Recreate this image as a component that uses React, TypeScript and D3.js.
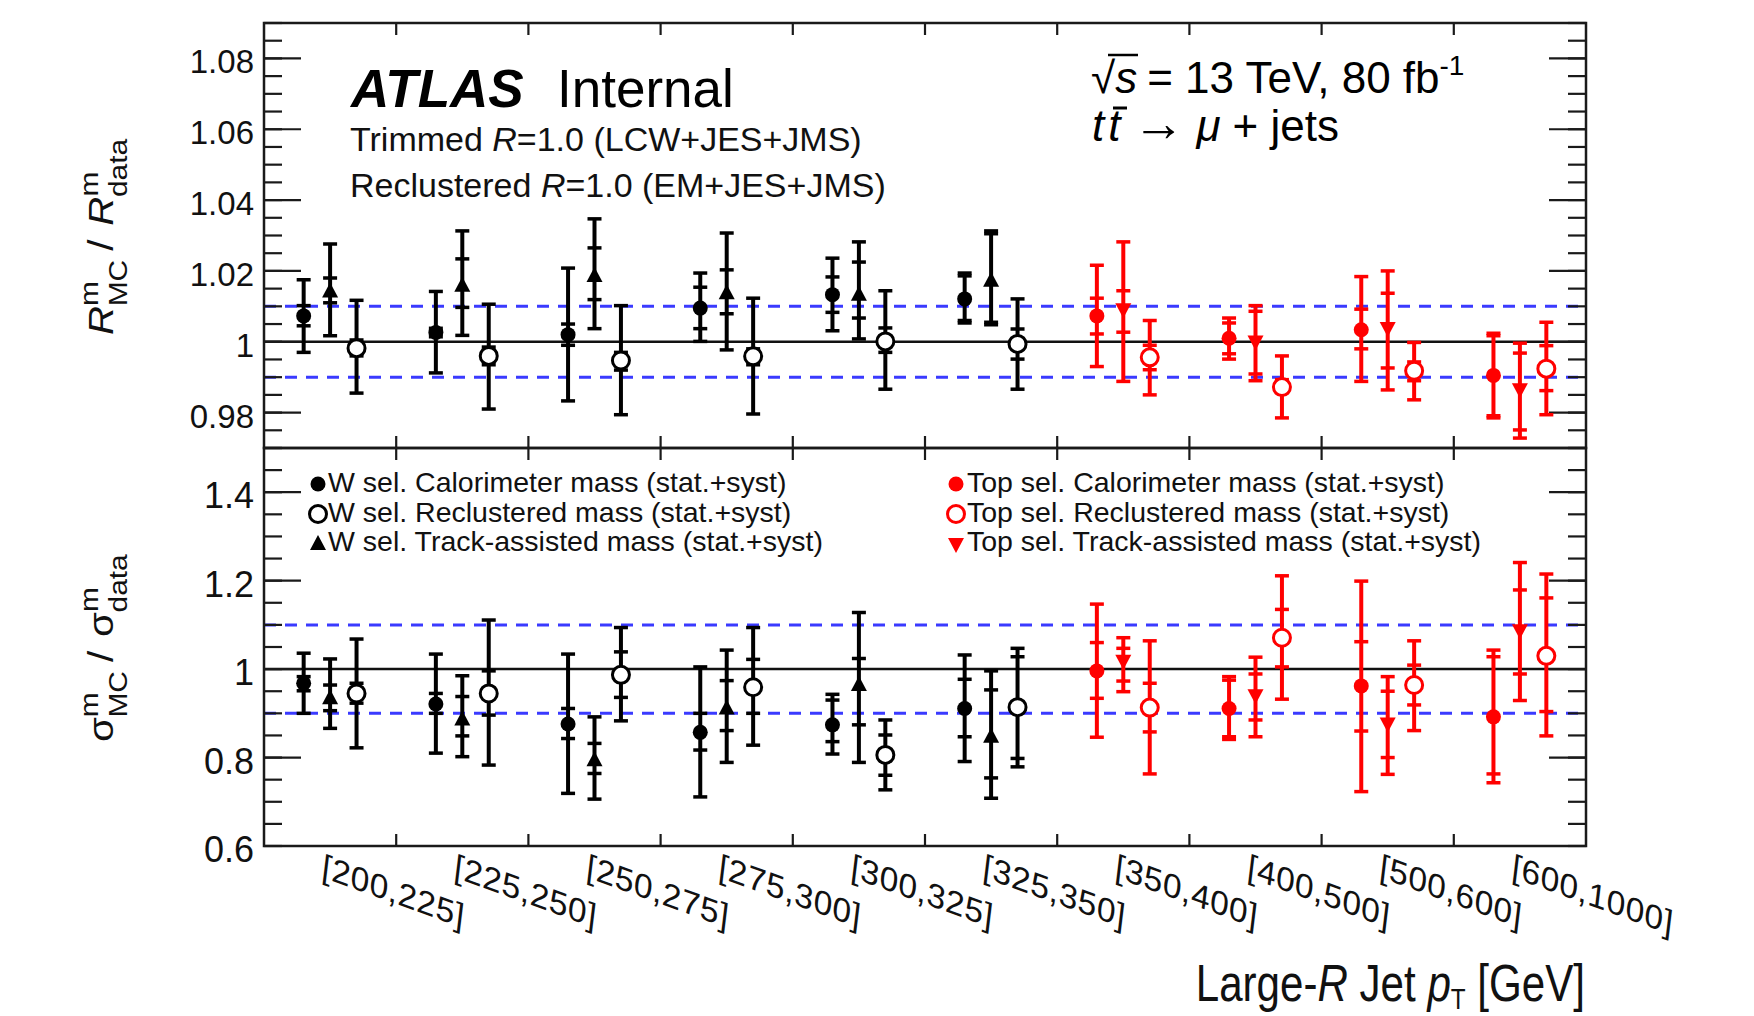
import React from "react";
import * as d3 from "d3";

// ---------- data ----------
const categories = [
  "[200,225]", "[225,250]", "[250,275]", "[275,300]", "[300,325]",
  "[325,350]", "[350,400]", "[400,500]", "[500,600]", "[600,1000]",
];
const nWBins = 6; // first six bins: W selection (black), remaining: top selection (red)

// each entry: [value, totalLow, totalHigh, statLow, statHigh]
type Pt = [number, number, number, number, number];

const rCalo: Pt[] = [
  [1.0073, 0.997, 1.0175, 1.0045, 1.0102],
  [1.0026, 0.9912, 1.0142, 1.0014, 1.0038],
  [1.002, 0.9833, 1.0208, 0.999, 1.005],
  [1.0095, 1.0001, 1.0194, 1.0037, 1.0154],
  [1.0133, 1.0031, 1.0236, 1.0083, 1.0183],
  [1.0121, 1.0053, 1.0194, 1.006, 1.0186],
  [1.0073, 0.993, 1.0216, 1.0022, 1.0123],
  [1.001, 0.9951, 1.0067, 0.9966, 1.0053],
  [1.0034, 0.9888, 1.0184, 0.998, 1.0092],
  [0.9905, 0.9785, 1.0024, 0.9791, 1.0017],
];
const rTrack: Pt[] = [
  [1.0142, 1.0017, 1.0276, 1.011, 1.018],
  [1.0158, 1.0018, 1.0313, 1.0097, 1.0234],
  [1.0186, 1.0037, 1.0347, 1.0119, 1.0265],
  [1.0137, 0.9977, 1.0307, 1.0079, 1.0203],
  [1.0133, 1.0008, 1.0282, 1.0067, 1.0225],
  [1.0172, 1.0048, 1.0313, 1.0055, 1.0305],
  [1.0092, 0.9888, 1.0282, 1.0027, 1.0144],
  [1.0001, 0.989, 1.0102, 0.9909, 1.0086],
  [1.0039, 0.9864, 1.02, 0.9926, 1.0137],
  [0.9866, 0.9728, 0.9996, 0.9751, 0.9968],
];
const rRecl: Pt[] = [
  [0.9982, 0.9855, 1.0117, 0.996, 1.0005],
  [0.996, 0.981, 1.0106, 0.9935, 0.9985],
  [0.9947, 0.9794, 1.0102, 0.992, 0.997],
  [0.9959, 0.9796, 1.0123, 0.9935, 0.998],
  [1.0001, 0.9866, 1.0144, 0.997, 1.0039],
  [0.9994, 0.9866, 1.0121, 0.9951, 1.0036],
  [0.9956, 0.985, 1.006, 0.9921, 0.999],
  [0.9872, 0.9785, 0.996, 0.9857, 0.9893],
  [0.9918, 0.9836, 0.9998, 0.989, 0.9943],
  [0.9924, 0.9794, 1.0055, 0.9862, 0.9989],
];

const sCalo: Pt[] = [
  [0.968, 0.9, 1.036, 0.951, 0.983],
  [0.921, 0.81, 1.034, 0.9, 0.945],
  [0.876, 0.719, 1.034, 0.843, 0.911],
  [0.857, 0.711, 1.005, 0.817, 0.9],
  [0.874, 0.808, 0.943, 0.836, 0.93],
  [0.911, 0.791, 1.032, 0.847, 0.977],
  [0.996, 0.846, 1.147, 0.934, 1.06],
  [0.911, 0.841, 0.983, 0.847, 0.975],
  [0.962, 0.723, 1.199, 0.86, 1.062],
  [0.892, 0.743, 1.043, 0.763, 1.028],
];
const sTrack: Pt[] = [
  [0.934, 0.866, 1.023, 0.906, 0.964],
  [0.886, 0.802, 0.985, 0.849, 0.938],
  [0.794, 0.706, 0.892, 0.764, 0.832],
  [0.911, 0.789, 1.043, 0.861, 0.974],
  [0.964, 0.789, 1.128, 0.874, 1.024],
  [0.847, 0.708, 0.996, 0.754, 0.953],
  [1.019, 0.949, 1.071, 0.973, 1.047],
  [0.941, 0.847, 1.027, 0.885, 0.989],
  [0.877, 0.762, 0.983, 0.8, 0.95],
  [1.088, 0.929, 1.241, 0.989, 1.179],
];
const sRecl: Pt[] = [
  [0.945, 0.822, 1.068, 0.923, 0.968],
  [0.945, 0.783, 1.111, 0.896, 0.996],
  [0.987, 0.883, 1.094, 0.936, 1.039],
  [0.959, 0.828, 1.094, 0.9, 1.022],
  [0.806, 0.727, 0.885, 0.76, 0.851],
  [0.914, 0.779, 1.047, 0.798, 1.028],
  [0.913, 0.763, 1.064, 0.858, 0.968],
  [1.071, 0.932, 1.211, 1.005, 1.135],
  [0.964, 0.861, 1.064, 0.919, 1.009],
  [1.03, 0.849, 1.215, 0.904, 1.161],
];

const rTickLabels = ["0.98", "1", "1.02", "1.04", "1.06", "1.08"];
const sTickLabels = ["0.6", "0.8", "1", "1.2", "1.4"];
const rBand = [0.99, 1.01];
const sBand = [0.9, 1.1];

const legendW = [
  "W sel. Calorimeter mass (stat.+syst)",
  "W sel. Reclustered mass (stat.+syst)",
  "W sel. Track-assisted mass (stat.+syst)",
];
const legendTop = [
  "Top sel. Calorimeter mass (stat.+syst)",
  "Top sel. Reclustered mass (stat.+syst)",
  "Top sel. Track-assisted mass (stat.+syst)",
];

// ---------- layout ----------
const W = 1754, H = 1016;
const L = 264, R = 1586, T = 23, MID = 448, B = 846;
const FONT = "'Liberation Sans', Arial, Helvetica, sans-serif";
const FRAME = "#1a1a1a";
const BLUE = "#3a3aff";
const RED = "#ff0000";

type Shape = "filled" | "open" | "tri";

function Marker({ x, y, shape, color, down }: { x: number; y: number; shape: Shape; color: string; down?: boolean }) {
  if (shape === "filled") return <circle cx={x} cy={y} r={7.5} fill={color} />;
  if (shape === "open")
    return <circle cx={x} cy={y} r={8.5} fill="#fff" stroke={color} strokeWidth={3} />;
  const d = down ? "M0,9 L8,-6 L-8,-6 Z" : "M0,-9 L8,6 L-8,6 Z";
  return <path d={d} transform={`translate(${x},${y})`} fill={color} />;
}

function ErrPoint({ x, p, y, shape, color, down }: { x: number; p: Pt; y: d3.ScaleLinear<number, number>; shape: Shape; color: string; down?: boolean }) {
  const [v, lo, hi, slo, shi] = p;
  const cw = 7;
  return (
    <g>
      <line x1={x} x2={x} y1={y(lo)} y2={y(hi)} stroke={color} strokeWidth={4} />
      {[lo, hi, slo, shi].map((e, i) => (
        <line key={i} x1={x - cw} x2={x + cw} y1={y(e)} y2={y(e)} stroke={color} strokeWidth={3.5} />
      ))}
      <Marker x={x} y={y(v)} shape={shape} color={color} down={down} />
    </g>
  );
}

function Panel({ y, top, bottom, majors, minorStep, band, data, labelSize, labelDy }: {
  y: d3.ScaleLinear<number, number>; top: number; bottom: number; majors: string[]; minorStep: number;
  band: number[]; data: { pts: Pt[]; frac: number; shape: Shape }[]; labelSize: number; labelDy: number;
}) {
  const x = d3.scaleBand<string>().domain(categories).range([L, R]).padding(0);
  const [d0, d1] = y.domain();
  const nMinor = Math.round((d1 - d0) / minorStep);
  const minors = d3.range(0, nMinor + 1).map((i) => d0 + i * minorStep);
  const majorVals = majors.map((s) => +s);
  return (
    <g>
      {band.map((b, i) => (
        <line key={i} x1={L} x2={R} y1={y(b)} y2={y(b)} stroke={BLUE} strokeWidth={3} strokeDasharray="12,9" />
      ))}
      <line x1={L} x2={R} y1={y(1)} y2={y(1)} stroke="#111" strokeWidth={2.5} />
      {minors.map((m, i) => (
        <g key={i}>
          <line x1={L} x2={L + 18} y1={y(m)} y2={y(m)} stroke={FRAME} strokeWidth={2.2} />
          <line x1={R - 18} x2={R} y1={y(m)} y2={y(m)} stroke={FRAME} strokeWidth={2.2} />
        </g>
      ))}
      {majorVals.map((m, i) => (
        <g key={i}>
          <line x1={L} x2={L + 37} y1={y(m)} y2={y(m)} stroke={FRAME} strokeWidth={2.2} />
          <line x1={R - 37} x2={R} y1={y(m)} y2={y(m)} stroke={FRAME} strokeWidth={2.2} />
          <text x={254} y={y(m) + labelDy} textAnchor="end" fontSize={labelSize} fontFamily={FONT} fill="#111">
            {majors[i]}
          </text>
        </g>
      ))}
      {categories.slice(1).map((c) => (
        <g key={c}>
          <line x1={x(c)} x2={x(c)} y1={top} y2={top + 12} stroke={FRAME} strokeWidth={2.2} />
          <line x1={x(c)} x2={x(c)} y1={bottom} y2={bottom - 12} stroke={FRAME} strokeWidth={2.2} />
        </g>
      ))}
      {data.map((s, si) =>
        s.pts.map((p, i) => {
          const isTop = i >= nWBins;
          const cx = (x(categories[i]) as number) + s.frac * x.bandwidth();
          return (
            <ErrPoint key={`${si}-${i}`} x={cx} p={p} y={y} shape={s.shape} color={isTop ? RED : "#000"} down={isTop && s.shape === "tri"} />
          );
        })
      )}
      <rect x={L} y={top} width={R - L} height={bottom - top} fill="none" stroke={FRAME} strokeWidth={2.5} />
    </g>
  );
}

export default function App() {
  const yR = d3.scaleLinear().domain([0.97, 1.09]).range([MID, T]);
  const yS = d3.scaleLinear().domain([0.6, 1.5]).range([B, MID]);
  const x = d3.scaleBand<string>().domain(categories).range([L, R]).padding(0);

  const rData = [
    { pts: rCalo, frac: 0.3, shape: "filled" as Shape },
    { pts: rTrack, frac: 0.5, shape: "tri" as Shape },
    { pts: rRecl, frac: 0.7, shape: "open" as Shape },
  ];
  const sData = [
    { pts: sCalo, frac: 0.3, shape: "filled" as Shape },
    { pts: sTrack, frac: 0.5, shape: "tri" as Shape },
    { pts: sRecl, frac: 0.7, shape: "open" as Shape },
  ];
  const legShapes: Shape[] = ["filled", "open", "tri"];

  return (
    <div style={{ position: "absolute", left: 0, top: 0 }}>
      <svg width={W} height={H} viewBox={`0 0 ${W} ${H}`} style={{ display: "block", background: "#fff" }}>
        <rect x={0} y={0} width={W} height={H} fill="#fff" />
        <Panel y={yR} top={T} bottom={MID} majors={rTickLabels} minorStep={0.005} band={rBand} data={rData} labelSize={33} labelDy={15} />
        <Panel y={yS} top={MID} bottom={B} majors={sTickLabels} minorStep={0.05} band={sBand} data={sData} labelSize={36} labelDy={16} />

        {/* ATLAS label */}
        <text x={351} y={107} fontSize={53} fontFamily={FONT} fontWeight="bold" fontStyle="italic" fill="#000">ATLAS</text>
        <text x={557} y={107} fontSize={53} fontFamily={FONT} fill="#000">Internal</text>
        <text x={350} y={151} fontSize={34} fontFamily={FONT} fill="#111">
          Trimmed <tspan fontStyle="italic">R</tspan>=1.0 (LCW+JES+JMS)
        </text>
        <text x={350} y={197} fontSize={34} fontFamily={FONT} fill="#111">
          Reclustered <tspan fontStyle="italic">R</tspan>=1.0 (EM+JES+JMS)
        </text>

        {/* energy / channel */}
        <text x={1091} y={93} fontSize={44} fontFamily={FONT} fill="#000">
          <tspan>√</tspan>
          <tspan fontStyle="italic">s</tspan>
          <tspan dx={10}>= 13 TeV, 80 fb</tspan>
          <tspan fontSize={28} dy={-18}>-1</tspan>
        </text>
        <line x1={1108} x2={1138} y1={55} y2={55} stroke="#000" strokeWidth={2.5} />
        <text x={1092} y={141} fontSize={44} fontFamily={FONT} fill="#000">
          <tspan fontStyle="italic">t</tspan>
          <tspan fontStyle="italic" dx={4}>t</tspan>
          <tspan dx={12} fontSize={52}>→</tspan>
          <tspan dx={12} fontStyle="italic">μ</tspan>
          <tspan dx={12}>+ jets</tspan>
        </text>
        <line x1={1113} x2={1127} y1={108} y2={108} stroke="#000" strokeWidth={3} />

        {/* legends */}
        {legendW.map((t, i) => (
          <g key={t}>
            <Marker x={318} y={484 + i * 30} shape={legShapes[i]} color="#000" />
            <text x={328} y={492 + i * 29.5} fontSize={28.5} fontFamily={FONT} fill="#111">{t}</text>
          </g>
        ))}
        {legendTop.map((t, i) => (
          <g key={t}>
            <Marker x={956} y={484 + i * 30} shape={legShapes[i]} color={RED} down />
            <text x={967} y={492 + i * 29.5} fontSize={28.5} fontFamily={FONT} fill="#111">{t}</text>
          </g>
        ))}

        {/* y titles */}
        <text transform="translate(113,335) rotate(-90) scale(1.15,1)" fontSize={35} fontFamily={FONT} fill="#111">
          <tspan fontStyle="italic">R</tspan>
          <tspan fontSize={26} dy={-15}>m</tspan>
          <tspan fontSize={26} dx={-22} dy={29}>MC</tspan>
          <tspan dx={8} dy={-14}>/</tspan>
          <tspan dx={12} fontStyle="italic">R</tspan>
          <tspan fontSize={26} dy={-15}>m</tspan>
          <tspan fontSize={26} dx={-22} dy={29}>data</tspan>
        </text>
        <text transform="translate(113,742) rotate(-90) scale(1.15,1)" fontSize={35} fontFamily={FONT} fill="#111">
          <tspan>σ</tspan>
          <tspan fontSize={26} dy={-15}>m</tspan>
          <tspan fontSize={26} dx={-22} dy={29}>MC</tspan>
          <tspan dx={8} dy={-14}>/</tspan>
          <tspan dx={12}>σ</tspan>
          <tspan fontSize={26} dy={-15}>m</tspan>
          <tspan fontSize={26} dx={-22} dy={29}>data</tspan>
        </text>

        {/* x tick labels */}
        {categories.map((c) => {
          const cx = (x(c) as number) + x.bandwidth() / 2;
          return (
            <text key={c} transform={`matrix(1,0.36,-0.12,1,${cx - 9},877)`} fontSize={33} letterSpacing={0.5} fontFamily={FONT} fill="#111">
              {c}
            </text>
          );
        })}

        {/* x title */}
        <text transform="translate(1585,1001) scale(0.81,1)" textAnchor="end" fontSize={52} fontFamily={FONT} fill="#111">
          Large-<tspan fontStyle="italic">R</tspan> Jet <tspan fontStyle="italic">p</tspan>
          <tspan fontSize={30} dy={8}>T</tspan>
          <tspan dy={-8}> [GeV]</tspan>
        </text>
      </svg>
    </div>
  );
}
